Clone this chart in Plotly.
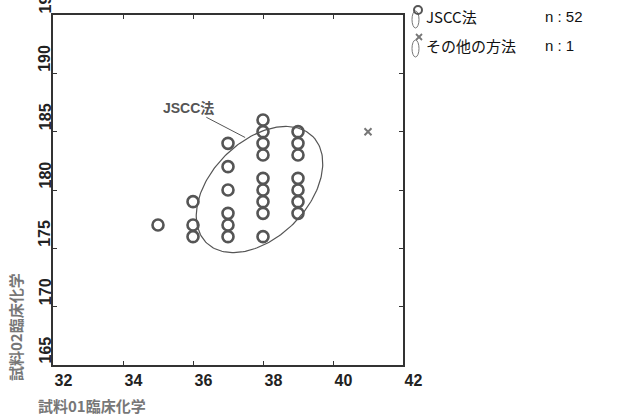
import numpy as np
import plotly.graph_objects as go

# JSCC method points (x: 試料01, y: 試料02)
jscc_x = [35, 36, 36, 36, 37, 37, 37, 37, 37, 37,
          38, 38, 38, 38, 38, 38, 38, 38, 38,
          39, 39, 39, 39, 39, 39, 39]
jscc_y = [177, 179, 177, 176, 184, 182, 180, 178, 177, 176,
          186, 185, 184, 183, 181, 180, 179, 178, 176,
          185, 184, 183, 181, 180, 179, 178]
other_x = [41]
other_y = [185]

x_ticks = [32, 34, 36, 38, 40, 42]
y_ticks = [165, 170, 175, 180, 185, 190, 195]
legend_names = ["JSCC法", "その他の方法"]
legend_counts = ["n : 52", "n : 1"]

# ellipse (data units): center, semi-axes in pixel scale, rotation
ell_cx, ell_cy = 37.9, 180.04
px_per_x, px_per_y = 35.0, 11.7
ell_a, ell_b, ell_theta = 75.3, 48.3, np.deg2rad(45)

t = np.linspace(0, 2 * np.pi, 200)
ex_px = ell_a * np.cos(t) * np.cos(ell_theta) - ell_b * np.sin(t) * np.sin(ell_theta)
ey_px = ell_a * np.cos(t) * np.sin(ell_theta) + ell_b * np.sin(t) * np.cos(ell_theta)
ell_x = ell_cx + ex_px / px_per_x
ell_y = ell_cy + ey_px / px_per_y

fig = go.Figure()
fig.add_trace(go.Scatter(x=ell_x, y=ell_y, mode="lines",
                         line=dict(color="#555", width=1.2), showlegend=False, hoverinfo="skip"))
fig.add_trace(go.Scatter(x=jscc_x, y=jscc_y, mode="markers",
                         marker=dict(symbol="circle-open", size=11, color="#555",
                                     line=dict(width=2.6, color="#555")),
                         showlegend=False))
fig.add_trace(go.Scatter(x=other_x, y=other_y, mode="markers",
                         marker=dict(symbol="x-thin-open", size=7, color="#777",
                                     line=dict(width=2, color="#777")),
                         showlegend=False))

tickfont = dict(family="Liberation Sans Narrow, Liberation Sans", size=16, color="#222", weight="bold")
fig.update_xaxes(range=[32, 42], tickvals=x_ticks, ticks="inside", ticklen=4, tickwidth=1,
                 tickcolor="#333", mirror="ticks", showline=True, linecolor="#333", linewidth=2,
                 showgrid=False, zeroline=False, tickfont=tickfont,
                 ticklabelposition="outside right", automargin=False)
fig.update_yaxes(range=[165, 195], tickvals=y_ticks, ticks="inside", ticklen=4, tickwidth=1,
                 tickcolor="#333", mirror="ticks", showline=True, linecolor="#333", linewidth=2,
                 showgrid=False, zeroline=False, showticklabels=False, automargin=False)

W, H = 623, 415
L, R, T, B = 53, 220, 15, 50
pw, ph = W - L - R, H - T - B

def px2paper(x, y):
    return (x - L) / pw, (H - B - y) / ph

annotations = []
# y tick labels, rotated, starting at the tick and reading upward
for v in y_ticks:
    annotations.append(dict(x=px2paper(45, 0)[0], y=v, xref="paper", yref="y", text=str(v),
                            showarrow=False, textangle=-90, xanchor="center", yanchor="bottom",
                            borderpad=0, font=tickfont))
# JSCC callout
annotations.append(dict(x=37.49, y=184.5, xref="x", yref="y", ax=35.86, ay=187.05,
                        axref="x", ayref="y", text="JSCC法", showarrow=True, arrowhead=0,
                        arrowwidth=1, arrowcolor="#555",
                        font=dict(family="Liberation Sans, Noto Sans CJK JP", size=14, color="#555", weight="bold")))
# axis titles
xt, yt = px2paper(92, 405)
annotations.append(dict(x=xt, y=yt, xref="paper", yref="paper", text="試料01臨床化学", showarrow=False,
                        xanchor="center", yanchor="middle",
                        font=dict(family="Noto Sans CJK JP", size=15, color="#777", weight="bold")))
xt, yt = px2paper(15, 327)
annotations.append(dict(x=xt, y=yt, xref="paper", yref="paper", text="試料02臨床化学", showarrow=False,
                        textangle=-90, xanchor="center", yanchor="middle",
                        font=dict(family="Noto Sans CJK JP", size=15, color="#777", weight="bold")))
# legend text
rows_y = [17, 46]
for name, cnt, ry in zip(legend_names, legend_counts, rows_y):
    xt, yt = px2paper(424, ry)
    annotations.append(dict(x=xt, y=yt, xref="paper", yref="paper", text=name, showarrow=False,
                            xanchor="left", yanchor="middle",
                            font=dict(family="Noto Sans CJK JP", size=15, color="#111")))
    xt, yt = px2paper(543, ry)
    annotations.append(dict(x=xt, y=yt, xref="paper", yref="paper", text=cnt, showarrow=False,
                            xanchor="left", yanchor="middle",
                            font=dict(family="Liberation Sans", size=15, color="#111")))

shapes = []
# legend symbols: tall thin ellipses + marker glyphs (drawn as shapes outside the plot)
for ry in rows_y:
    x0, y0 = px2paper(412, ry + 11)
    x1, y1 = px2paper(419, ry - 6)
    shapes.append(dict(type="circle", xref="paper", yref="paper", x0=x0, y0=y0, x1=x1, y1=y1,
                       line=dict(color="#777", width=1)))
cx0, cy0 = px2paper(414, rows_y[0] - 3)
cx1, cy1 = px2paper(422, rows_y[0] - 11)
shapes.append(dict(type="circle", xref="paper", yref="paper", x0=cx0, y0=cy0, x1=cx1, y1=cy1,
                   line=dict(color="#555", width=2)))
gx, gy = 419, rows_y[1] - 9
for dx0, dy0, dx1, dy1 in [(-3, -3, 3, 3), (-3, 3, 3, -3)]:
    a0, b0 = px2paper(gx + dx0, gy + dy0)
    a1, b1 = px2paper(gx + dx1, gy + dy1)
    shapes.append(dict(type="line", xref="paper", yref="paper", x0=a0, y0=b0, x1=a1, y1=b1,
                       line=dict(color="#777", width=1.8)))

fig.update_layout(shapes=shapes, annotations=annotations)
fig.update_layout(width=W, height=H, margin=dict(l=L, r=R, t=T, b=B),
                  plot_bgcolor="white", paper_bgcolor="white")
fig.write_html("out.html")
